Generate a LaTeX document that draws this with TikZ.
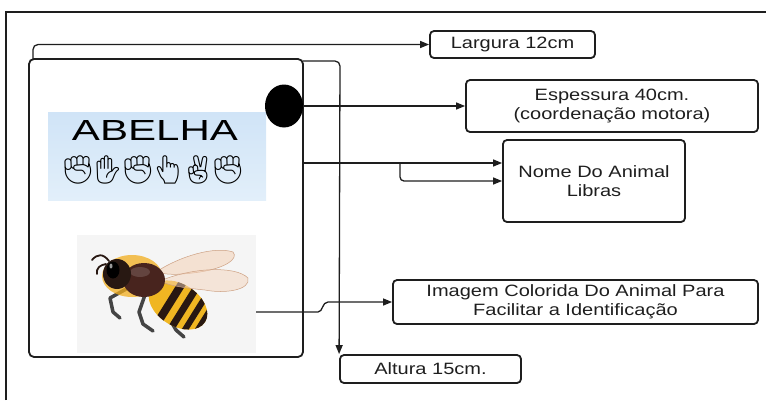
\documentclass[tikz,border=0pt]{standalone}
\usepackage{fontspec}
\setsansfont{Liberation Sans}
\newfontfamily\lab{Liberation Sans}[FakeStretch=1.22]
\newfontfamily\emo{Noto Emoji}
\usetikzlibrary{arrows.meta,shapes.geometric}
\definecolor{ink}{RGB}{30,30,30}
\definecolor{beeyellow}{RGB}{240,182,34}
\definecolor{beedark}{RGB}{40,24,18}
\definecolor{thorax}{RGB}{72,36,30}
\definecolor{legs}{RGB}{68,68,68}
\definecolor{wing}{RGB}{244,212,188}
\begin{document}
\begin{tikzpicture}[x=1pt,y=-1pt]
\tikzset{
  box/.style={draw=ink, line width=1.8pt, rounded corners=4pt, align=center,
    font=\lab\fontsize{16.4}{19.5}\selectfont, text=ink, inner sep=0pt},
  conn/.style={line width=1.3pt, draw=ink},
  arr/.style={conn, -{Triangle[length=9pt,width=7pt]}},
  hand/.style={font=\emo\fontsize{28}{28}\selectfont, inner sep=0pt}
}
\useasboundingbox (0,0) rectangle (766,400);

% outer frame
\draw[line width=2.2pt, ink] (6,400) -- (6,12) -- (766,12);

% the card
\node[draw=ink, line width=1.8pt, rounded corners=5pt, minimum width=274pt,
      minimum height=298pt, inner sep=0pt] (card) at (166,208) {};

% name picture with fingerspelling
\node[inner sep=0pt, minimum width=218pt, minimum height=88pt,
      top color={rgb,255:red,208;green,228;blue,247},
      bottom color={rgb,255:red,226;green,239;blue,250}] (sign) at (157,156) {};
\node[inner sep=0pt] (abelha) at (155,130) {\resizebox{166pt}{20pt}{\sffamily ABELHA}};
\node[hand] (h1) at (78,170) {✊};
\node[hand] (h2) at (108,170) {✋};
\node[hand] (h3) at (138,170) {✊};
\node[hand] (h4) at (168,170) {👆};
\node[hand] (h5) at (198,170) {✌};
\node[hand] (h6) at (228,170) {✊};

% bee picture
\node[inner sep=0pt, fill={rgb,255:red,245;green,245;blue,245}, minimum width=179pt,
      minimum height=118pt] (beepic) at (166.5,294) {};
\begin{scope}[line cap=round, line join=round]
  % legs
  \draw[legs, line width=3.5pt] (128,288) -- (110,298) -- (113,312) -- (120,318);
  \draw[legs, line width=3.5pt] (146,292) -- (139,312) -- (143,324) -- (153,331);
  \draw[legs, line width=3.5pt] (162,296) -- (168,316) -- (176,330) -- (184,337);
  % abdomen with stripes
  \begin{scope}[shift={(178,305)}, rotate=-32]
    \fill[beeyellow] (0,0) ellipse (32 and 21);
    \clip (0,0) ellipse (32 and 21);
    \fill[beedark] (-12,-25) rectangle (-4,25);
    \fill[beedark] (3,-25) rectangle (10,25);
    \fill[beedark] (16,-25) rectangle (22,25);
    \fill[beedark] (27,-25) rectangle (36,25);
  \end{scope}
  % wings
  \filldraw[fill=wing, fill opacity=0.6, draw={rgb,255:red,205;green,160;blue,130}, line width=0.5pt]
    (156,272) .. controls (180,256) and (215,246) .. (233,252)
    .. controls (239,259) and (225,268) .. (200,272)
    .. controls (185,274) and (170,276) .. (156,272) -- cycle;
  \filldraw[fill=wing, fill opacity=0.5, draw={rgb,255:red,205;green,160;blue,130}, line width=0.5pt]
    (160,281) .. controls (190,268) and (235,265) .. (248,278)
    .. controls (251,290) and (225,294) .. (205,290)
    .. controls (185,288) and (170,286) .. (160,281) -- cycle;
  % fuzz, thorax, head
  \fill[beeyellow!85!orange, opacity=0.75] (132,276) ellipse (30 and 21);
  \fill[thorax] (144,280) ellipse (21 and 17);
  \fill[white, opacity=0.15] (140,272) ellipse (10 and 5);
  \fill[beedark] (117,274) ellipse (14 and 15);
  \fill[black] (113,270) ellipse (6.5 and 8.5);
  \fill[white, opacity=0.6] (111,266) ellipse (1.5 and 2.5);
  % antennae
  \draw[beedark, line width=1.8pt] (109,261) .. controls (103,253) and (97,254) .. (92,260);
  \draw[beedark, line width=1.8pt] (106,264) .. controls (100,265) and (96,268) .. (97,274);
\end{scope}

% black dot on the card edge
\node[ellipse, fill=black, inner sep=0pt, minimum width=38pt, minimum height=43pt] (dot) at (284,106) {};

% label boxes
\node[box, minimum width=165pt, minimum height=27pt] (larg) at (512.5,44.5) {Largura 12cm};
\node[box, minimum width=292pt, minimum height=52pt] (esp) at (612,106) {Espessura 40cm.\\(coordenação motora)};
\node[box, minimum width=182pt, minimum height=82pt] (nome) at (594,181) {Nome Do Animal\\Libras};
\node[box, minimum width=365pt, minimum height=44pt] (img) at (575.5,302) {Imagem Colorida Do Animal Para\\Facilitar a Identificação};
\node[box, minimum width=181pt, minimum height=28pt] (alt) at (430.5,369) {Altura 15cm.};

% connectors
\coordinate (wstart) at (33,59);
\coordinate (hstart) at (303,61);
\coordinate (nstart) at (303,163);
\coordinate (nsplit) at (400,163);
\coordinate (istart) at (256,312);

\draw[arr, rounded corners=5pt] (wstart) |- (larg.west);
\draw[arr, rounded corners=5pt] (hstart) -- (340,61) -- (alt.north west);
\draw[arr] (dot.east) -- (esp.west);
\draw[arr] (nstart) -- (nome.west |- nstart);
\draw[arr, rounded corners=4pt] (nsplit) -- (nsplit |- nome.west) -- (nome.west);
\draw[arr] (istart) -- (318,312) .. controls (323,312) and (322,302) .. (328,302) -- (img.west);
\end{tikzpicture}
\end{document}
